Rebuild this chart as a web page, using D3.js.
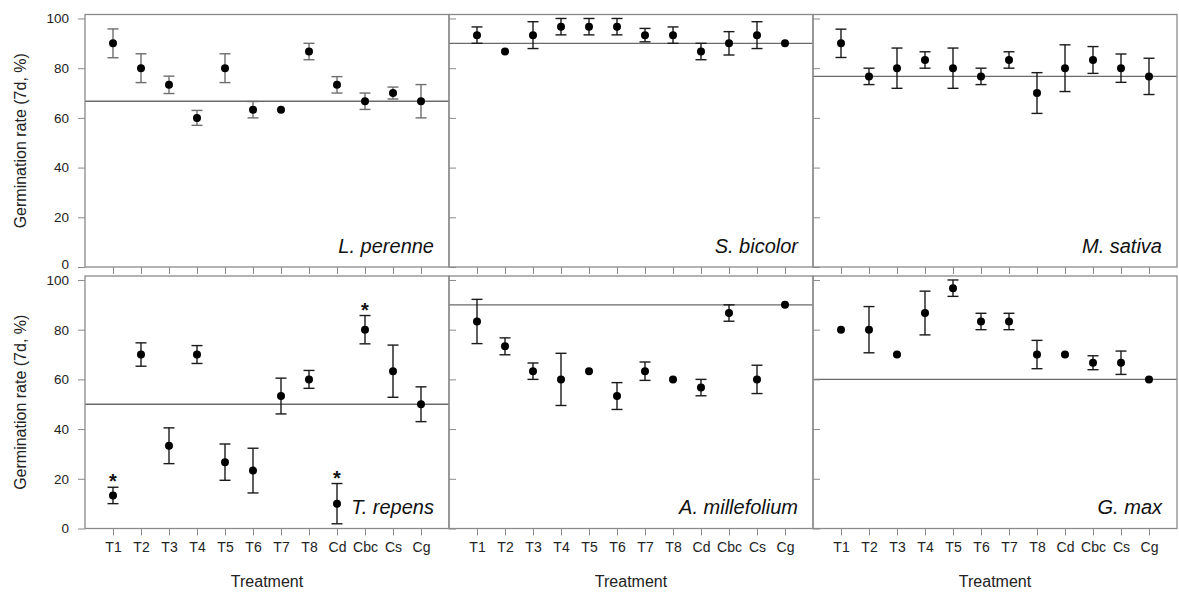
<!DOCTYPE html>
<html>
<head>
<meta charset="utf-8">
<script src="https://cdn.jsdelivr.net/npm/d3@7"></script>
<style>
  html, body { margin: 0; padding: 0; background: #fff; }
  svg { display: block; font-family: "Liberation Sans", Arial, sans-serif; }
</style>
</head>
<body>
<svg id="chart" width="1179" height="594"></svg>
<script>
// ---------- data ----------
const treatments = ["T1", "T2", "T3", "T4", "T5", "T6", "T7", "T8", "Cd", "Cbc", "Cs", "Cg"];
const species = ["L. perenne", "S. bicolor", "M. sativa", "T. repens", "A. millefolium", "G. max"];
const yTicks = [0, 20, 40, 60, 80, 100];

const lPerenneMean = [90, 80, 73.3, 60, 80, 63.3, 63.3, 86.7, 73.3, 66.7, 70, 66.7];
const lPerenneErr  = [5.8, 5.8, 3.5, 3, 5.8, 3.3, 0, 3.3, 3.3, 3.3, 2.4, 6.7];

const sBicolorMean = [93.3, 86.7, 93.3, 96.7, 96.7, 96.7, 93.3, 93.3, 86.7, 90, 93.3, 90];
const sBicolorErr  = [3.3, 0, 5.4, 3.3, 3.3, 3.3, 2.7, 3.3, 3.3, 4.7, 5.4, 0];

const mSativaMean = [90, 76.7, 80, 83.3, 80, 76.7, 83.3, 70, 80, 83.3, 80, 76.7];
const mSativaErr  = [5.7, 3.3, 8.1, 3.3, 8.1, 3.3, 3.3, 8.2, 9.4, 5.4, 5.7, 7.3];

const tRepensMean = [13.3, 70, 33.3, 70, 26.7, 23.3, 53.3, 60, 10, 80, 63.3, 50];
const tRepensErr  = [3.3, 4.7, 7.2, 3.6, 7.3, 9, 7.2, 3.6, 8.1, 5.7, 10.5, 7];
const tRepensStars = ["T1", "Cd", "Cbc"];

const aMillefoliumMean = [83.3, 73.3, 63.3, 60, 63.3, 53.3, 63.3, 60, 56.7, 86.7, 60, 90];
const aMillefoliumErr  = [8.9, 3.4, 3.3, 10.5, 0, 5.4, 3.7, 0, 3.3, 3.3, 5.7, 0];

const gMaxMean = [80, 80, 70, 86.7, 96.7, 83.3, 83.3, 70, 70, 66.7, 66.7, 60];
const gMaxErr  = [0, 9.3, 0, 8.8, 3.3, 3.3, 3.3, 5.7, 0, 2.8, 4.7, 0];

const controlMean = [66.7, 90, 76.7, 50, 90, 60];

const panels = [
  { name: species[0], mean: lPerenneMean, err: lPerenneErr, stars: [] },
  { name: species[1], mean: sBicolorMean, err: sBicolorErr, stars: [] },
  { name: species[2], mean: mSativaMean, err: mSativaErr, stars: [] },
  { name: species[3], mean: tRepensMean, err: tRepensErr, stars: tRepensStars },
  { name: species[4], mean: aMillefoliumMean, err: aMillefoliumErr, stars: [] },
  { name: species[5], mean: gMaxMean, err: gMaxErr, stars: [] }
];

// ---------- layout ----------
const svg = d3.select("#chart");
const left0 = 85, pw = 364, ph = 252.5;
const rowTops = [14.5, 276];
const frameColor = "#8a8a8a";
const textColor = "#222";

panels.forEach((p, i) => {
  const col = i % 3, row = Math.floor(i / 3);
  const x0 = left0 + col * pw;
  const yTop = rowTops[row], yBot = yTop + ph;
  const x = d3.scalePoint().domain(treatments).range([x0, x0 + pw]).padding(1);
  const y = d3.scaleLinear().domain([0, 101.6]).range([yBot, yTop]);
  const g = svg.append("g");

  // reference (control) line
  g.append("line")
    .attr("x1", x0).attr("x2", x0 + pw)
    .attr("y1", y(controlMean[i])).attr("y2", y(controlMean[i]))
    .attr("stroke", "#6a6a6a").attr("stroke-width", 1.3);

  // y axis
  let yAxis;
  if (col === 0) {
    yAxis = d3.axisLeft(y).tickValues(yTicks).tickSize(7).tickPadding(9);
  } else {
    yAxis = d3.axisRight(y).tickValues(yTicks).tickSize(7).tickFormat("");
  }
  const ya = g.append("g").attr("transform", `translate(${x0},0)`).call(yAxis);
  ya.select(".domain").remove();
  ya.selectAll("line").attr("stroke", frameColor);
  ya.selectAll("text").attr("fill", textColor).style("font-size", "13.5px");
  if (row === 0) {
    ya.selectAll("text").filter(d => d === 0).attr("dy", "0.1em");
  }

  // x axis
  const xAxis = d3.axisBottom(x).tickSize(7).tickPadding(6.5);
  if (row === 0) xAxis.tickFormat("");
  const xa = g.append("g").attr("transform", `translate(0,${yBot})`).call(xAxis);
  xa.select(".domain").remove();
  xa.selectAll("line").attr("stroke", frameColor);
  xa.selectAll("text").attr("fill", textColor).style("font-size", "14px");

  // frame
  g.append("rect")
    .attr("x", x0).attr("y", yTop).attr("width", pw).attr("height", ph)
    .attr("fill", "none").attr("stroke", frameColor).attr("stroke-width", 1.3);

  // error bars
  const barColor = i === 0 ? "#6e6e6e" : "#1a1a1a";
  const eb = g.append("g").attr("stroke", barColor).attr("stroke-width", 1.4);
  treatments.forEach((t, k) => {
    const e = p.err[k];
    if (!e) return;
    const cx = x(t), hi = y(p.mean[k] + e), lo = y(p.mean[k] - e);
    eb.append("line").attr("x1", cx).attr("x2", cx).attr("y1", hi).attr("y2", lo);
    eb.append("line").attr("x1", cx - 5.5).attr("x2", cx + 5.5).attr("y1", hi).attr("y2", hi);
    eb.append("line").attr("x1", cx - 5.5).attr("x2", cx + 5.5).attr("y1", lo).attr("y2", lo);
  });

  // points
  g.selectAll("circle.pt").data(treatments).enter().append("circle")
    .attr("class", "pt")
    .attr("cx", t => x(t))
    .attr("cy", (t, k) => y(p.mean[k]))
    .attr("r", 4)
    .attr("fill", "#000");

  // significance stars
  p.stars.forEach(t => {
    const k = treatments.indexOf(t);
    g.append("text")
      .attr("x", x(t)).attr("y", y(p.mean[k] + p.err[k]) + 1)
      .attr("text-anchor", "middle")
      .style("font-size", "20px").style("font-weight", "bold")
      .attr("fill", "#111")
      .text("*");
  });

  // species label
  g.append("text")
    .attr("x", x0 + pw - 15).attr("y", yBot - 14.5)
    .attr("text-anchor", "end")
    .style("font-size", "20px").style("font-style", "italic")
    .attr("fill", "#111")
    .text(p.name);

  // x title
  if (row === 1) {
    g.append("text")
      .attr("x", x0 + pw / 2).attr("y", 587)
      .attr("text-anchor", "middle")
      .style("font-size", "16px")
      .attr("fill", textColor)
      .text("Treatment");
  }

  // y title
  if (col === 0) {
    g.append("text")
      .attr("transform", `translate(26,${(yTop + yBot) / 2}) rotate(-90)`)
      .attr("text-anchor", "middle")
      .style("font-size", "16px")
      .attr("fill", textColor)
      .text("Germination rate (7d, %)");
  }
});
</script>
</body>
</html>
